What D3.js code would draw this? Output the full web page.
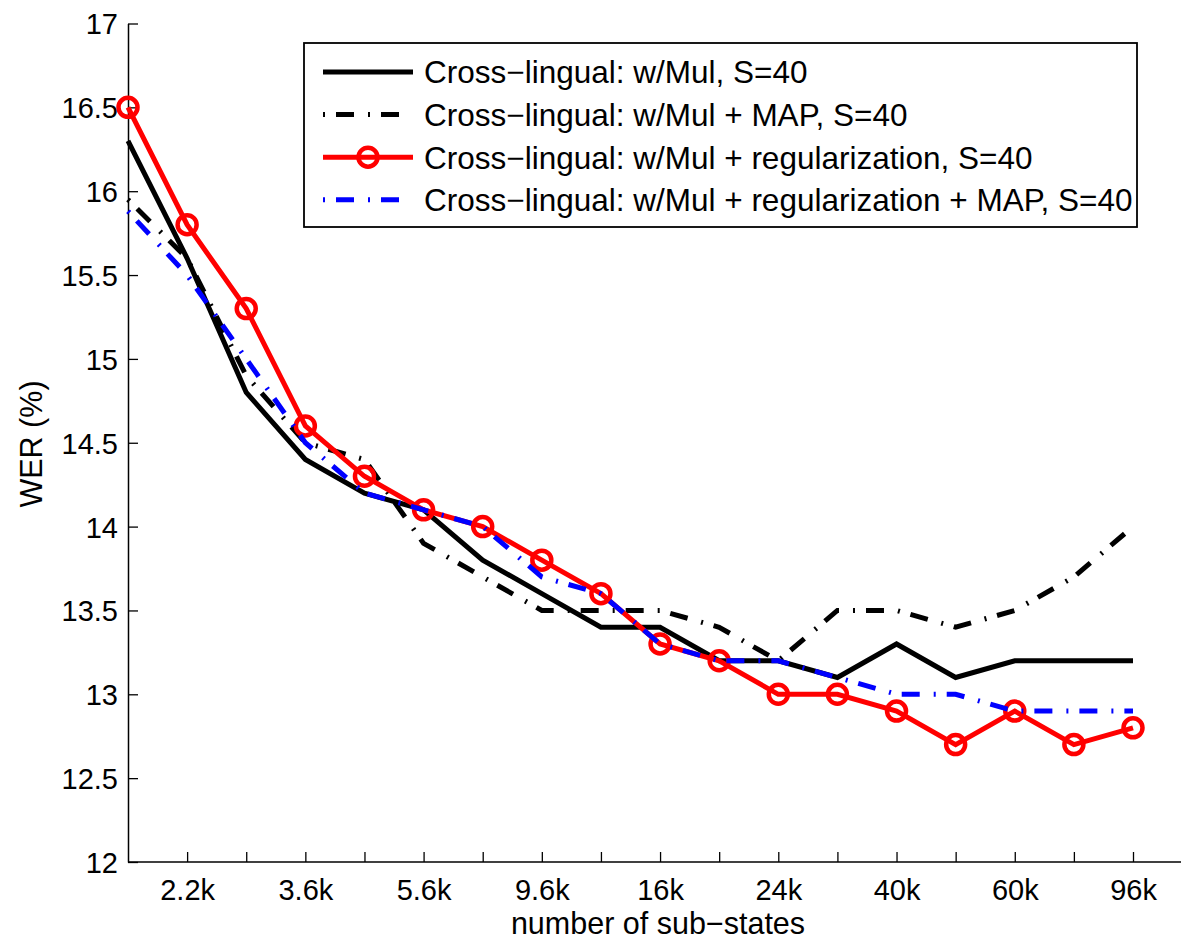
<!DOCTYPE html>
<html>
<head>
<meta charset="utf-8">
<script src="https://cdn.jsdelivr.net/npm/d3@7"></script>
<style>
  html, body { margin: 0; padding: 0; background: #fff; }
  svg { display: block; }
  text { font-family: "Liberation Sans", Arial, Helvetica, sans-serif; fill: #000; }
</style>
</head>
<body>
<svg id="chart" width="1181" height="939"></svg>
<script>
// ---- data ----
const categoryIndex = d3.range(18);
const tickIndex = [1, 3, 5, 7, 9, 11, 13, 15, 17];
const tickLabels = ["2.2k", "3.6k", "5.6k", "9.6k", "16k", "24k", "40k", "60k", "96k"];
const yTicks = [12, 12.5, 13, 13.5, 14, 14.5, 15, 15.5, 16, 16.5, 17];

const seriesNames = [
  "Cross\u2212lingual: w/Mul, S=40",
  "Cross\u2212lingual: w/Mul + MAP, S=40",
  "Cross\u2212lingual: w/Mul + regularization, S=40",
  "Cross\u2212lingual: w/Mul + regularization + MAP, S=40"
];
const werMul      = [16.3, 15.6, 14.8, 14.4, 14.2, 14.1, 13.8, 13.6, 13.4, 13.4, 13.2, 13.2, 13.1, 13.3, 13.1, 13.2, 13.2, 13.2];
const werMulMap   = [15.95, 15.6, 14.9, 14.5, 14.4, 13.9, 13.7, 13.5, 13.5, 13.5, 13.4, 13.2, 13.5, 13.5, 13.4, 13.5, 13.7, 14.0];
const werMulReg   = [16.5, 15.8, 15.3, 14.6, 14.3, 14.1, 14.0, 13.8, 13.6, 13.3, 13.2, 13.0, 13.0, 12.9, 12.7, 12.9, 12.7, 12.8];
const werMulRegMap= [15.88, 15.5, 15.0, 14.5, 14.2, 14.1, 14.0, 13.7, 13.6, 13.3, 13.2, 13.2, 13.1, 13.0, 13.0, 12.9, 12.9, 12.9];

// ---- layout / styles ----
const svg = d3.select("#chart");
const x = d3.scaleLinear().domain([0, 17]).range([128, 1133]);
const y = d3.scaleLinear().domain([12, 17]).range([862, 23.5]);
const FS = 29;
const FS_LABEL = 30.5;
const FS_LEGEND = 31.5;
const dashDot = "2,11,18,14";

const styles = [
  { values: werMul,       color: "#000", dash: null,    marker: false },
  { values: werMulMap,    color: "#000", dash: dashDot, marker: false },
  { values: werMulReg,    color: "#ff0000", dash: null, marker: true },
  { values: werMulRegMap, color: "#0000ff", dash: dashDot, marker: false }
];

// axes
const xAxis = d3.axisBottom(x)
  .tickValues(categoryIndex.slice(1))
  .tickSizeInner(-10).tickSizeOuter(0)
  .tickFormat(d => { const i = tickIndex.indexOf(d); return i >= 0 ? tickLabels[i] : ""; });
const gx = svg.append("g").attr("transform", `translate(0,${y(12)})`).call(xAxis);
gx.select(".domain").remove();
gx.append("line").attr("x1", x(0)).attr("x2", 1181).attr("y1", 0).attr("y2", 0)
  .attr("stroke", "#000").attr("stroke-width", 1.5);
gx.selectAll(".tick line").attr("stroke", "#000").attr("stroke-width", 1.3);
gx.selectAll(".tick text").attr("font-size", FS).attr("y", 38).attr("dy", 0)
  .style("font-family", '"Liberation Sans", Arial, sans-serif');

const yAxis = d3.axisLeft(y).tickValues(yTicks).tickSizeInner(-10).tickSizeOuter(0)
  .tickFormat(d => String(d));
const gy = svg.append("g").attr("transform", `translate(${x(0)},0)`).call(yAxis);
gy.select(".domain").attr("stroke", "#000").attr("stroke-width", 1.5);
gy.selectAll(".tick line").attr("stroke", "#000").attr("stroke-width", 1.3);
gy.selectAll(".tick text").attr("font-size", FS).attr("x", -10).attr("dy", "0.36em")
  .style("font-family", '"Liberation Sans", Arial, sans-serif');

// axis labels
svg.append("text").attr("x", 658).attr("y", 934).attr("text-anchor", "middle")
  .attr("font-size", FS_LABEL).text("number of sub\u2212states");
svg.append("text").attr("transform", "translate(42,444) rotate(-90)").attr("text-anchor", "middle")
  .attr("font-size", FS_LABEL).text("WER (%)");

// series
const line = d3.line().x((d, i) => x(categoryIndex[i])).y(d => y(d));
styles.forEach(s => {
  svg.append("path").datum(s.values).attr("d", line)
    .attr("fill", "none").attr("stroke", s.color).attr("stroke-width", 5)
    .attr("stroke-dasharray", s.dash).attr("stroke-linejoin", "miter").attr("stroke-miterlimit", 4);
  if (s.marker) {
    svg.append("g").selectAll("circle").data(s.values).join("circle")
      .attr("cx", (d, i) => x(categoryIndex[i])).attr("cy", d => y(d)).attr("r", 9.5)
      .attr("fill", "none").attr("stroke", s.color).attr("stroke-width", 4.5);
  }
});

// legend
const lg = svg.append("g");
lg.append("rect").attr("x", 304).attr("y", 43).attr("width", 833).attr("height", 184)
  .attr("fill", "#fff").attr("stroke", "#000").attr("stroke-width", 1.8);
styles.forEach((s, i) => {
  const cy = 72 + i * 42.6;
  lg.append("line").attr("x1", 323).attr("x2", 413).attr("y1", cy).attr("y2", cy)
    .attr("stroke", s.color).attr("stroke-width", 5).attr("stroke-dasharray", s.dash);
  if (s.marker) {
    lg.append("circle").attr("cx", 368).attr("cy", cy).attr("r", 9.5)
      .attr("fill", "none").attr("stroke", s.color).attr("stroke-width", 4.5);
  }
  lg.append("text").attr("x", 424).attr("y", cy).attr("dy", "0.36em")
    .attr("font-size", FS_LEGEND).text(seriesNames[i]);
});
</script>
</body>
</html>
